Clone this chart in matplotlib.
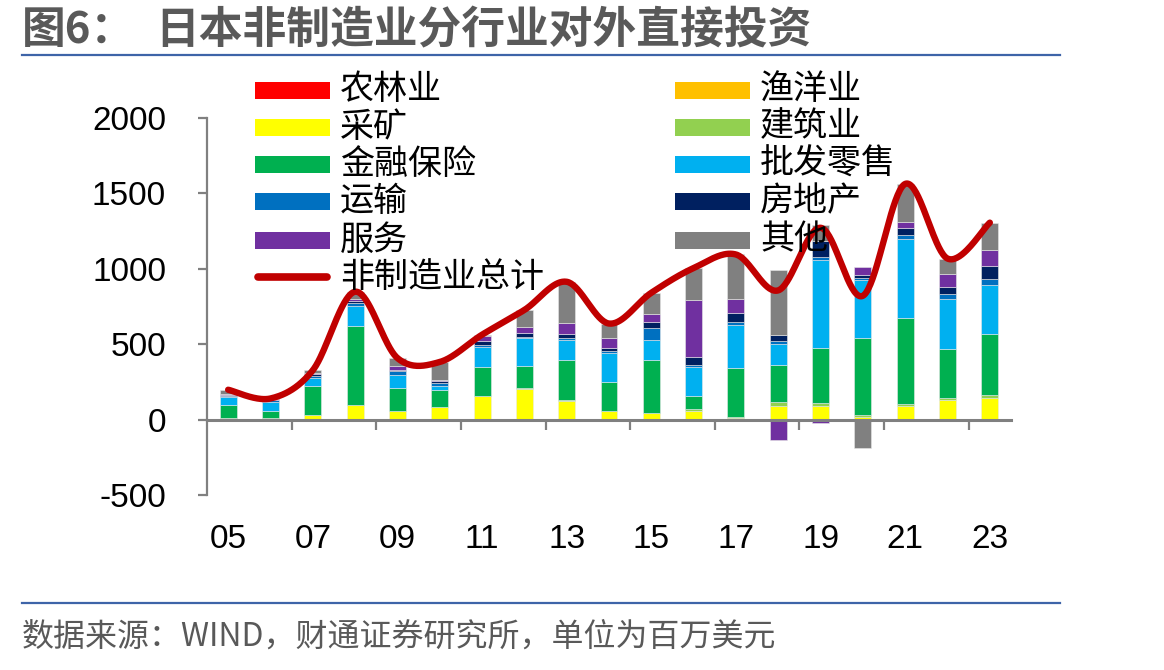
import numpy as np
import matplotlib
matplotlib.use("Agg")
import matplotlib.pyplot as plt
from matplotlib.patches import Rectangle
from matplotlib.lines import Line2D
import matplotlib.transforms as mtransforms

plt.rcParams['font.family'] = ['Noto Sans CJK SC', 'DejaVu Sans']

# ---- data (百万美元), 2005-2023 ----
years = list(range(2005, 2024))
year_labels = ['05', '07', '09', '11', '13', '15', '17', '19', '21', '23']

agri      = [0] * 19
fishery   = [0, 0, 0, 0, 0, 0, 0, 0, 0, 5, 0, 0, 0, 0, 0, 0, 0, 0, 0]
mining    = [10, 8, 31, 97, 60, 84, 159, 203, 121, 55, 44, 55, 8, 90, 90, 18, 90, 128, 146]
construct = [0, 0, 0, 0, 0, 0, 0, 5, 7, 0, 3, 18, 11, 26, 22, 11, 11, 13, 15]
finance   = [88, 48, 194, 523, 150, 113, 190, 146, 265, 192, 346, 82, 324, 249, 364, 514, 574, 329, 404]
retail    = [51, 62, 49, 132, 88, 24, 130, 188, 132, 192, 137, 192, 287, 139, 580, 386, 525, 327, 327]
transport = [9, 10, 18, 24, 26, 22, 18, 9, 15, 13, 75, 18, 15, 20, 20, 7, 22, 38, 38]
realty    = [3, 3, 8, 9, 7, 11, 22, 22, 26, 15, 42, 49, 62, 35, 106, 20, 49, 44, 90]
service   = [7, 3, 12, 18, 22, 11, 33, 44, 77, 66, 55, 377, 93, -137, -20, 55, 40, 88, 106]
other     = [30, 6, 15, 45, 55, 117, 11, 110, 271, 99, 139, 214, 295, 435, 110, -190, 252, 101, 180]

series = [
    ('农林业', agri, '#FF0000'),
    ('渔洋业', fishery, '#FFC000'),
    ('采矿', mining, '#FFFF00'),
    ('建筑业', construct, '#92D050'),
    ('金融保险', finance, '#00B050'),
    ('批发零售', retail, '#00B0F0'),
    ('运输', transport, '#0070C0'),
    ('房地产', realty, '#002060'),
    ('服务', service, '#7030A0'),
    ('其他', other, '#808080'),
]
line_color = '#C00000'

W, H = 1164, 670


def fx(x):
    return x / W


def fy(y):
    return 1 - y / H


fig = plt.figure(figsize=(W / 100, H / 100), dpi=100)
ax = fig.add_axes([fx(207), fy(495), (1011 - 207) / W, (495 - 118) / H])

n = len(years)
x = np.arange(n)
pos_bottom = np.zeros(n)
neg_bottom = np.zeros(n)
total = np.zeros(n)
for name, vals, color in series:
    v = np.array(vals, dtype=float)
    bottom = np.where(v >= 0, pos_bottom, neg_bottom)
    ax.bar(x, v, 0.4, bottom=bottom, color=color, edgecolor='#e8e8e8',
           linewidth=0.4, zorder=2)
    pos_bottom += np.clip(v, 0, None)
    neg_bottom += np.clip(v, None, 0)
    total += v


# smoothed total line (Catmull-Rom style bezier like Excel)
def smooth(xs, ys, steps=40):
    p = np.column_stack([xs, ys]).astype(float)
    p = np.vstack([p[0], p, p[-1]])
    segs = []
    t = np.linspace(0, 1, steps)[:, None]
    for i in range(1, len(p) - 2):
        p0, p1, p2, p3 = p[i - 1], p[i], p[i + 1], p[i + 2]
        b1 = p1 + (p2 - p0) / 6
        b2 = p2 - (p3 - p1) / 6
        segs.append((1 - t) ** 3 * p1 + 3 * (1 - t) ** 2 * t * b1
                    + 3 * (1 - t) * t ** 2 * b2 + t ** 3 * p2)
    return np.vstack(segs)


curve = smooth(x, total)
ax.plot(curve[:, 0], curve[:, 1], color=line_color, lw=4.6,
        solid_capstyle='round', zorder=4)

# axes styling
ax.set_xlim(-0.5, n - 0.5)
ax.set_ylim(-500, 2000)
for s in ['top', 'right']:
    ax.spines[s].set_visible(False)
ax.spines['left'].set_color('#808080')
ax.spines['left'].set_linewidth(1.6)
ax.spines['bottom'].set_position(('data', 0))
ax.spines['bottom'].set_color('#808080')
ax.spines['bottom'].set_linewidth(2.2)
ax.spines['bottom'].set_zorder(3)

ax.set_yticks(np.arange(-500, 2001, 500))
ax.set_yticklabels([str(v) for v in range(-500, 2001, 500)],
                   family=['Liberation Sans'], fontsize=24)
ax.tick_params(axis='y', direction='out', length=6.5, width=1.6,
               color='#808080', pad=23)
ax.set_xticks(np.arange(1.5, n, 2))
ax.set_xticklabels([])
ax.tick_params(axis='x', direction='out', length=7.5, width=1.6,
               color='#808080')

trans = mtransforms.blended_transform_factory(ax.transData, ax.transAxes)
for i, lab in zip(range(0, n, 2), year_labels):
    ax.text(i, -0.119, lab, transform=trans, ha='center', va='center',
            fontsize=24, family=['Liberation Sans'])

# manual legend
col1 = ['农林业', '采矿', '金融保险', '运输', '服务']
col2 = ['渔洋业', '建筑业', '批发零售', '房地产', '其他']
rows_y = [90, 127, 164, 202, 240]
colors = {name: c for name, _, c in series}
for names, hx in [(col1, 255), (col2, 675)]:
    for name, yy in zip(names, rows_y):
        fig.add_artist(Rectangle((fx(hx), fy(yy + 8.5)), 75 / W, 17 / H,
                                 transform=fig.transFigure,
                                 facecolor=colors[name], edgecolor='none',
                                 zorder=5))
        fig.text(fx(hx + 85), fy(yy), name, fontsize=24.5, va='center',
                 ha='left', zorder=5)
fig.add_artist(Line2D([fx(258), fx(327)], [fy(277), fy(277)],
                      transform=fig.transFigure, color=line_color, lw=5.5,
                      solid_capstyle='round', zorder=5))
fig.text(fx(340), fy(277), '非制造业总计', fontsize=24.5, va='center',
         ha='left', zorder=5)

# title, rules, source
fig.text(fx(22), fy(30), '图6：', fontsize=31.5, fontweight='bold',
         color='#595959', va='center', ha='left')
fig.text(fx(155), fy(30), '日本非制造业分行业对外直接投资', fontsize=31.5,
         fontweight='bold', color='#595959', va='center', ha='left')
fig.add_artist(Line2D([fx(22), fx(1060)], [fy(55), fy(55)],
                      transform=fig.transFigure, color='#3E64A8', lw=1.6))
fig.add_artist(Line2D([fx(22), fx(1060)], [fy(603), fy(603)],
                      transform=fig.transFigure, color='#3E64A8', lw=1.6))
fig.text(fx(22), fy(637), '数据来源：WIND，财通证券研究所，单位为百万美元',
         fontsize=23, color='#595959', va='center', ha='left')

fig.savefig('out.png', dpi=100)
